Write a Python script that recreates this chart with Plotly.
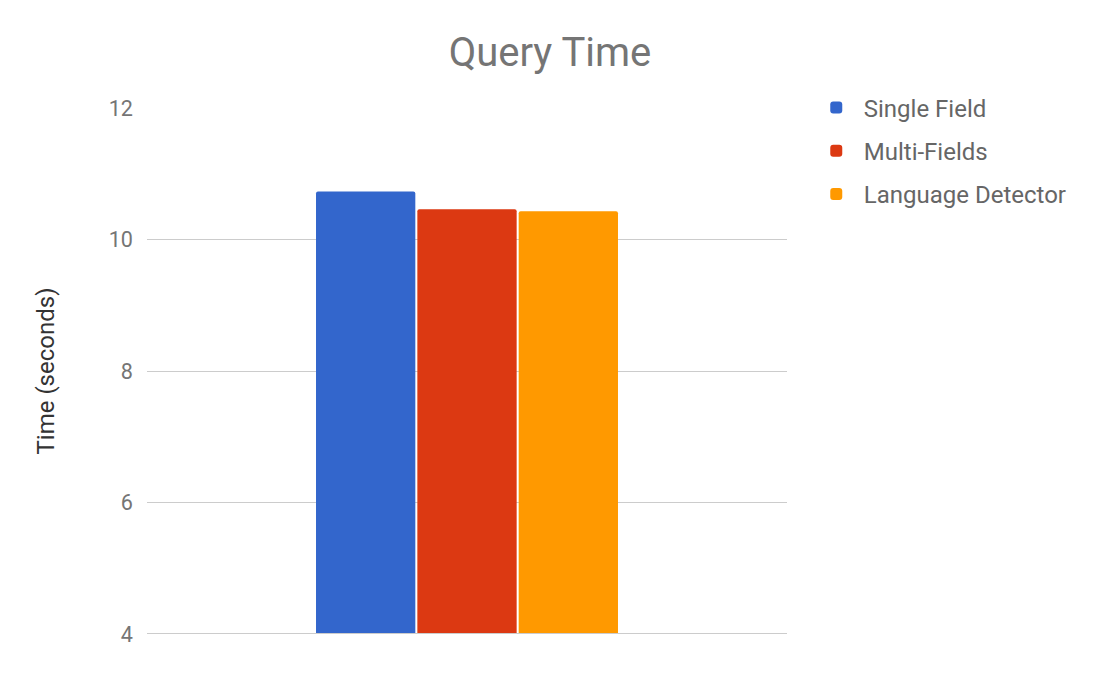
import plotly.graph_objects as go

categories = [""]
series_names = ["Single Field", "Multi-Fields", "Language Detector"]
series_values = [[10.73], [10.46], [10.43]]
colors = ["#3366cc", "#dc3912", "#ff9900"]
y_ticks = [4, 6, 8, 10, 12]

fig = go.Figure()
for name, vals, col in zip(series_names, series_values, colors):
    fig.add_trace(go.Bar(
        x=categories, y=vals, name=name, legendgroup=name,
        marker=dict(color=col, line=dict(width=0), cornerradius=2),
        hoverinfo="y+name",
    ))

fig.update_layout(
    width=1100, height=680,
    paper_bgcolor="white", plot_bgcolor="white",
    font=dict(family="Roboto, Arial, sans-serif", color="#757575"),
    title=dict(text="Query Time", x=0.4927, xanchor="center", y=0.935, yanchor="middle",
               font=dict(size=40, color="#757575")),
    margin=dict(l=139, r=321, t=100, b=54),
    barmode="group", bargap=0.525, bargroupgap=0.02,
    legend=dict(x=1.034, xanchor="left", y=1.043, yanchor="top",
                font=dict(size=24, color="#666666"), tracegroupgap=9,
                itemwidth=45),
    xaxis=dict(showticklabels=False, showgrid=False, zeroline=False, showline=False,
               ticks=""),
    yaxis=dict(range=[4, 12], tickvals=y_ticks, showgrid=True, gridcolor="#cccccc",
               gridwidth=1, zeroline=False, showline=False,
               tickfont=dict(size=21.6, color="#757575"), ticklabelstandoff=13,
               title=dict(text="Time (seconds)", font=dict(size=24, color="#333333"),
                          standoff=47)),
)
fig.add_shape(type="line", xref="paper", yref="y", x0=0, x1=1, y0=4, y1=4,
              line=dict(color="#cccccc", width=2), layer="above")

fig.write_html("out.html")
